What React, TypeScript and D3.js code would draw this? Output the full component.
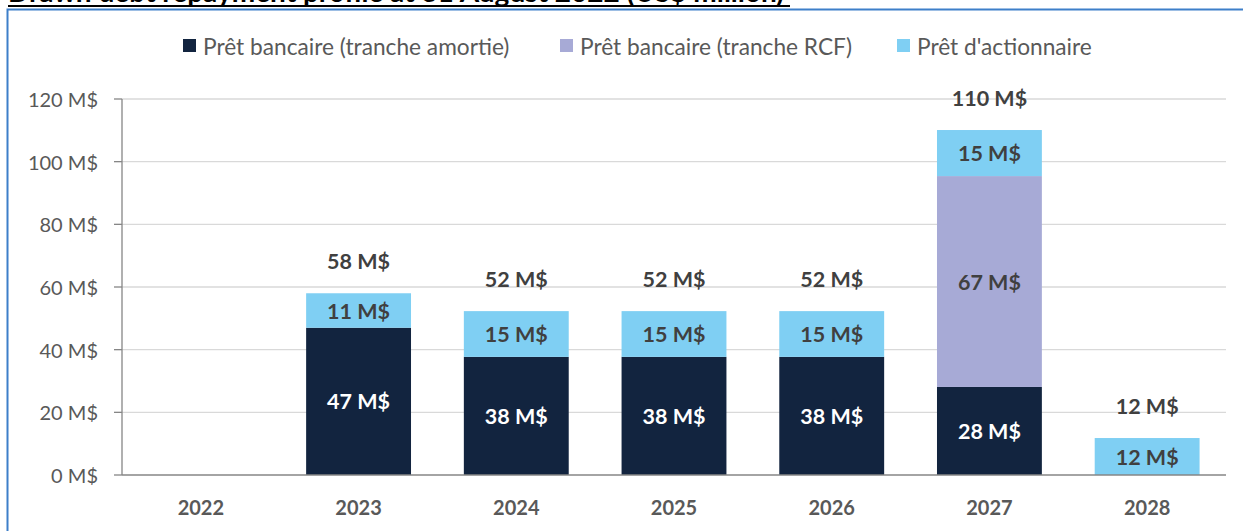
import * as d3 from 'd3';

const WIDTH = 1243;
const HEIGHT = 531;
const MARGIN = { top: 99, right: 17, bottom: 56, left: 122 };
const BAR_PADDING = 0.335;

const years = ['2022', '2023', '2024', '2025', '2026', '2027', '2028'];
const trancheAmortie = [0, 47.0, 37.7, 37.7, 37.7, 28.1, 0];
const trancheRCF = [0, 0, 0, 0, 0, 67.3, 0];
const actionnaire = [0, 11.0, 14.6, 14.6, 14.6, 14.7, 11.8];
const yTicks = [0, 20, 40, 60, 80, 100, 120];

const seriesNames = ['Prêt bancaire (tranche amortie)', 'Prêt bancaire (tranche RCF)', "Prêt d'actionnaire"];
const seriesKeys = ['amortie', 'rcf', 'actionnaire'];
const COLORS = ['#12243f', '#a7aad6', '#7fcff3'];
const LABEL_COLORS = ['#ffffff', '#404040', '#404040'];
const FONT = 'Lato, "Open Sans", sans-serif';

const fmt = (v: number) => `${Math.round(v)} M$`;

export default function App() {
    const boundsWidth = WIDTH - MARGIN.left - MARGIN.right;
    const boundsHeight = HEIGHT - MARGIN.top - MARGIN.bottom;

    const table = years.map((y, i) => ({
        year: y,
        amortie: trancheAmortie[i],
        rcf: trancheRCF[i],
        actionnaire: actionnaire[i],
    }));

    const stack = d3.stack<any>().keys(seriesKeys)(table);

    // half the inner padding at each end, like a spreadsheet chart
    const xScale = d3
        .scaleBand()
        .domain(years)
        .range([0, boundsWidth])
        .paddingInner(BAR_PADDING)
        .paddingOuter(BAR_PADDING / 2);
    const yScale = d3.scaleLinear().domain([0, 120]).range([boundsHeight, 0]);

    const grid = yTicks.map((v) => (
        <g key={v}>
            {v > 0 && (
                <line x1={0} x2={boundsWidth} y1={yScale(v)} y2={yScale(v)} stroke="#d9d9d9" strokeWidth={1.3} />
            )}
            <line x1={-8} x2={0} y1={yScale(v)} y2={yScale(v)} stroke="#868686" strokeWidth={1.3} />
            <text x={-24} y={yScale(v)} textAnchor="end" dominantBaseline="central" fontSize={20} fill="#595959">
                {v} M$
            </text>
        </g>
    ));

    const bars = stack.map((layer, si) =>
        layer.map((d, i) => {
            const x = xScale(years[i]) ?? 0;
            const h = yScale(d[0]) - yScale(d[1]);
            if (h <= 0.5) return null;
            return (
                <g key={`${si}-${i}`}>
                    <rect x={x} y={yScale(d[1])} width={xScale.bandwidth()} height={h} fill={COLORS[si]} />
                    <text
                        x={x + xScale.bandwidth() / 2}
                        y={(yScale(d[0]) + yScale(d[1])) / 2}
                        textAnchor="middle"
                        dominantBaseline="central"
                        fontSize={21.5}
                        fontWeight="bold"
                        fill={LABEL_COLORS[si]}
                    >
                        {fmt(d[1] - d[0])}
                    </text>
                </g>
            );
        })
    );

    const totals = table.map((d, i) => {
        const total = d.amortie + d.rcf + d.actionnaire;
        if (total === 0) return null;
        const x = xScale(d.year) ?? 0;
        return (
            <text
                key={i}
                x={x + xScale.bandwidth() / 2}
                y={yScale(total) - 32}
                textAnchor="middle"
                dominantBaseline="central"
                fontSize={21.5}
                fontWeight="bold"
                fill="#404040"
            >
                {fmt(total)}
            </text>
        );
    });

    const legendX = [183, 560, 897];

    return (
        <svg
            width={WIDTH}
            height={HEIGHT}
            style={{ position: 'absolute', left: 0, top: 0, fontFamily: FONT }}
        >
            {/* title, cut by the top of the picture */}
            <text x={8} y={2} fontSize={28} fontWeight="bold" fill="#000">
                Drawn debt repayment profile at 31 August 2022 (US$ million)
            </text>
            <line x1={8} x2={790} y1={6} y2={6} stroke="#000" strokeWidth={2} />
            {/* frame */}
            <path d={`M7.5,${HEIGHT + 5} V9.5 H${WIDTH + 5}`} fill="none" stroke="#3d7fc9" strokeWidth={2} />

            {/* legend */}
            {seriesNames.map((name, i) => (
                <g key={name} transform={`translate(${legendX[i]},46)`}>
                    <rect x={0} y={-7} width={13} height={13} fill={COLORS[i]} />
                    <text x={20} y={0} dominantBaseline="central" fontSize={22.7} fill="#595959">
                        {name}
                    </text>
                </g>
            ))}

            <g transform={`translate(${MARGIN.left},${MARGIN.top})`}>
                {grid}
                {bars}
                {totals}
                <line x1={0} x2={0} y1={0} y2={boundsHeight} stroke="#868686" strokeWidth={1.3} />
                <line x1={0} x2={boundsWidth} y1={boundsHeight} y2={boundsHeight} stroke="#868686" strokeWidth={1.3} />
                {years.map((y) => (
                    <text
                        key={y}
                        x={(xScale(y) ?? 0) + xScale.bandwidth() / 2}
                        y={boundsHeight + 32}
                        textAnchor="middle"
                        dominantBaseline="central"
                        fontSize={20}
                        fontWeight="bold"
                        fill="#595959"
                    >
                        {y}
                    </text>
                ))}
            </g>
        </svg>
    );
}
